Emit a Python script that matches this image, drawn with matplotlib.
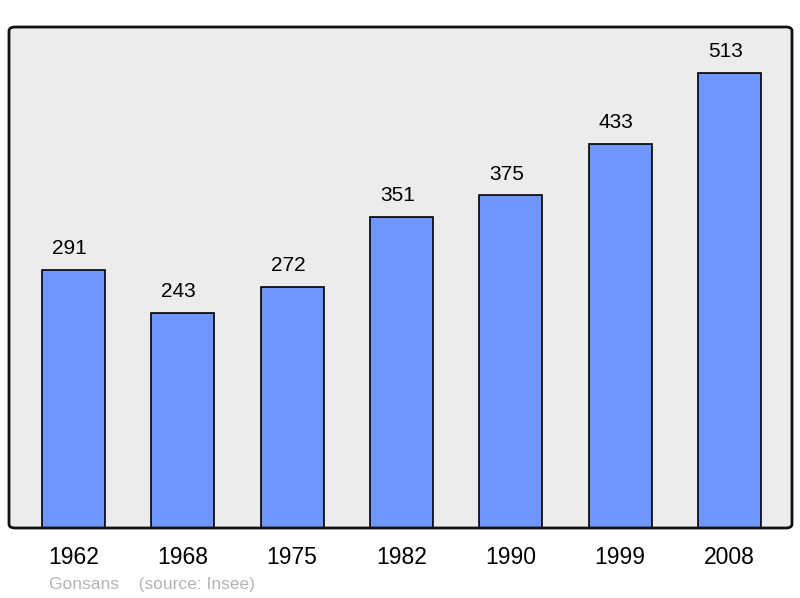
import matplotlib.pyplot as plt
from matplotlib.patches import FancyBboxPatch

years = ['1962', '1968', '1975', '1982', '1990', '1999', '2008']
population = [291, 243, 272, 351, 375, 433, 513]

plt.rcParams['font.family'] = ['Liberation Sans', 'DejaVu Sans']

fig = plt.figure(figsize=(8, 5.98), dpi=100)
ax = fig.add_axes([9 / 800, 1 - 528 / 598, 783 / 800, 501 / 598])
ax.set_facecolor('#ececec')

x = range(len(years))
bars = ax.bar(x, population, width=0.576, color='#7096ff', edgecolor='black',
              linewidth=1.2, zorder=2)
for xi, v in zip(x, population):
    ax.annotate(str(v), (xi, v), xytext=(-3, 8.5), textcoords='offset points',
                ha='center', va='bottom', fontsize=15)

ax.set_xlim(-0.59, len(years) - 1 + 0.572)
ax.set_ylim(0, 565)
ax.set_xticks(list(x))
ax.set_xticklabels(years, fontsize=16.5)
ax.tick_params(axis='x', length=0, pad=13)
ax.set_yticks([])
for s in ax.spines.values():
    s.set_visible(False)

box = FancyBboxPatch((0, 0), 1, 1, boxstyle='round,pad=0,rounding_size=0.008',
                     transform=ax.transAxes, facecolor='none', edgecolor='#111111',
                     linewidth=2, zorder=5, clip_on=False)
ax.add_patch(box)

fig.text(49 / 800, 1 - 584 / 598, 'Gonsans    (source: Insee)', color='#b4b4b4',
         fontsize=12.5, va='center', ha='left')

fig.savefig('out.png', dpi=100)
